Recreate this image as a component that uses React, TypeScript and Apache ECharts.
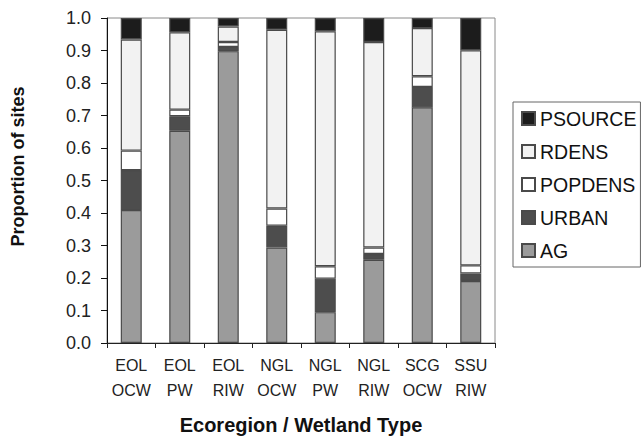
import React, { useEffect, useRef } from "react";
import * as echarts from "echarts";

const categories = ["EOL\nOCW", "EOL\nPW", "EOL\nRIW", "NGL\nOCW", "NGL\nPW", "NGL\nRIW", "SCG\nOCW", "SSU\nRIW"];
const AG = [0.409, 0.653, 0.898, 0.294, 0.095, 0.256, 0.725, 0.191];
const URBAN = [0.123, 0.045, 0.013, 0.067, 0.103, 0.018, 0.063, 0.023];
const POPDENS = [0.06, 0.02, 0.015, 0.053, 0.038, 0.02, 0.033, 0.025];
const RDENS = [0.342, 0.238, 0.048, 0.55, 0.723, 0.632, 0.148, 0.662];
const PSOURCE = [0.066, 0.044, 0.026, 0.036, 0.041, 0.074, 0.031, 0.099];
const legendOrder = ["PSOURCE", "RDENS", "POPDENS", "URBAN", "AG"];

const FONT = "Liberation Sans, Arial, sans-serif";

export default function App() {
  const ref = useRef<HTMLDivElement>(null);
  useEffect(() => {
    if (!ref.current) return;
    const chart = echarts.init(ref.current, null, { renderer: "svg" });
    const mk = (name: string, data: number[], color: string) => ({
      name,
      type: "bar",
      stack: "total",
      data,
      barWidth: 21,
      itemStyle: { color, borderColor: "#4a4a4a", borderWidth: 1.2 },
    });
    chart.setOption({
      animation: false,
      backgroundColor: "#ffffff",
      textStyle: { fontFamily: FONT },
      grid: {
        left: 107,
        right: 149,
        top: 18,
        bottom: 90,
        show: true,
        borderColor: "#8a8a8a",
        borderWidth: 1,
        backgroundColor: "transparent",
      },
      legend: {
        orient: "vertical",
        left: 513,
        top: 102,
        data: legendOrder,
        itemWidth: 13,
        itemHeight: 13,
        itemGap: 12,
        padding: [6, 4, 6, 8],
        borderColor: "#666",
        borderWidth: 1,
        icon: "rect",
        textStyle: { fontSize: 19.5, color: "#111", fontFamily: FONT, lineHeight: 21 },
      },
      xAxis: {
        type: "category",
        data: categories,
        name: "Ecoregion / Wetland Type",
        nameLocation: "middle",
        nameGap: 72,
        nameTextStyle: { fontSize: 20, fontWeight: "bold", color: "#111", fontFamily: FONT },
        axisLine: { lineStyle: { color: "#222", width: 1 } },
        axisTick: { show: true, length: 5, lineStyle: { color: "#222" } },
        axisLabel: { interval: 0, fontSize: 16, color: "#222", lineHeight: 25, margin: 10, fontFamily: FONT },
      },
      yAxis: {
        type: "value",
        min: 0,
        max: 1,
        interval: 0.1,
        name: "Proportion of sites",
        nameLocation: "middle",
        nameGap: 80,
        nameTextStyle: { fontSize: 18, fontWeight: "bold", color: "#111", fontFamily: FONT, padding: [0, 0, 0, 28] },
        axisLine: { show: true, lineStyle: { color: "#111", width: 1 } },
        axisTick: { show: true, length: 6, lineStyle: { color: "#111" } },
        splitLine: { show: false },
        axisLabel: {
          fontSize: 18,
          color: "#222",
          margin: 16,
          fontFamily: FONT,
          formatter: (v: number) => v.toFixed(1),
        },
      },
      series: [
        mk("AG", AG, "#9b9b9b"),
        mk("URBAN", URBAN, "#4d4d4d"),
        mk("POPDENS", POPDENS, "#ffffff"),
        mk("RDENS", RDENS, "#f2f2f2"),
        mk("PSOURCE", PSOURCE, "#1c1c1c"),
      ],
    });
    return () => chart.dispose();
  }, []);
  return <div ref={ref} style={{ width: 644, height: 440, position: "absolute", left: 0, top: 0 }} />;
}
